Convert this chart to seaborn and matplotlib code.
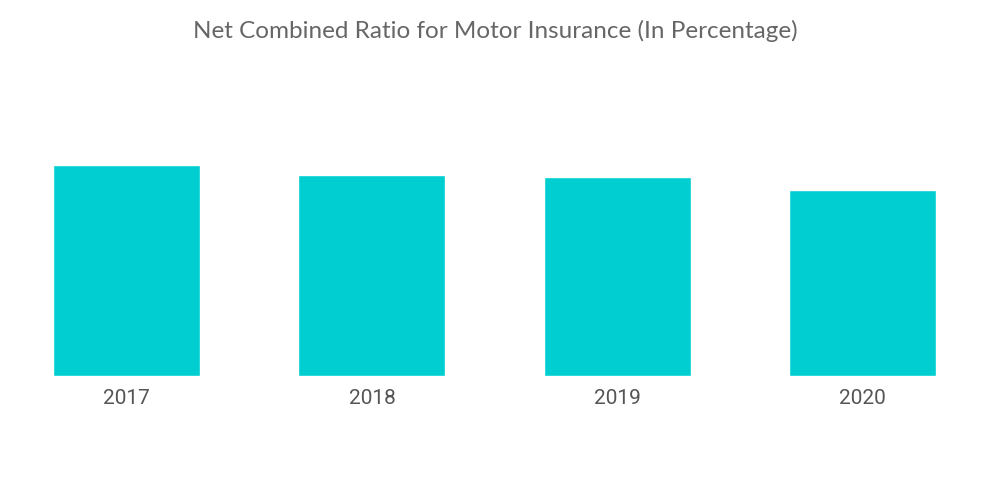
import pandas as pd
import seaborn as sns
import matplotlib.pyplot as plt

# Data (no axis shown, so heights are relative)
years = ['2017', '2018', '2019', '2020']
ratio = [105.5, 100.5, 99.5, 93.0]

df = pd.DataFrame({'year': years, 'ratio': ratio})

sns.set_style('white')
plt.rcParams['font.family'] = ['Lato', 'DejaVu Sans']

fig = plt.figure(figsize=(10, 5.04), dpi=100)
ax = fig.add_axes([0.004, 1 - 376 / 504, 0.981, 316 / 504])

sns.barplot(data=df, x='year', y='ratio', color='#00CED1', width=0.6,
            saturation=1, ax=ax)

ax.set_xlim(-0.5, 3.5)
ax.set_ylim(0, 158)
ax.set_xlabel('')
ax.set_ylabel('')
ax.set_yticks([])
ax.tick_params(axis='x', length=0, pad=9, labelsize=15, labelcolor='#555555')
for lbl in ax.get_xticklabels():
    lbl.set_family(['Roboto', 'DejaVu Sans'])
sns.despine(ax=ax, left=True, bottom=True, top=True, right=True)

fig.text(0.495, 1 - 31 / 504, 'Net Combined Ratio for Motor Insurance (In Percentage)',
         ha='center', va='center', fontsize=17.5, color='#666666')

fig.savefig('out.png', dpi=100)
